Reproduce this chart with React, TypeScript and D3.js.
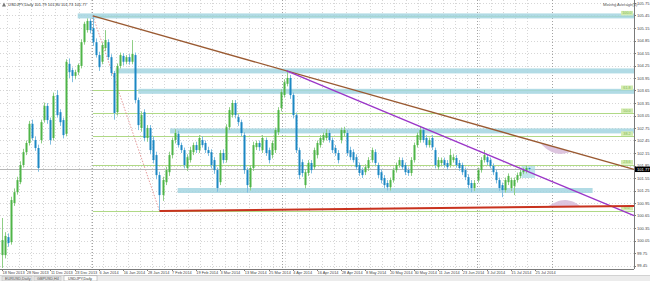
import React from 'react';
import * as d3 from 'd3';

const opens = [99.70,99.70,100.13,100.01,100.95,101.21,101.45,101.86,102.17,102.39,102.85,102.46,102.27,102.46,102.94,103.28,102.94,102.51,103.54,103.13,102.94,102.61,104.29,104.14,104.00,104.09,104.24,104.81,105.10,105.32,105.15,104.81,104.50,104.34,104.67,104.81,104.45,104.07,103.13,104.24,104.48,104.34,104.45,104.34,104.50,103.42,102.75,103.13,102.51,102.75,102.46,102.10,101.62,101.14,101.45,101.69,102.10,102.46,102.61,102.34,102.22,101.79,101.98,102.17,102.34,102.22,102.46,102.39,102.22,102.17,101.98,101.74,101.45,102.15,101.98,102.77,103.06,103.35,103.01,102.89,102.58,101.74,101.33,101.79,102.29,102.39,102.22,102.46,102.22,102.10,102.22,102.65,103.23,103.54,103.81,103.95,103.54,103.06,102.22,101.93,101.38,101.67,101.91,101.81,102.10,102.34,102.46,102.51,102.63,102.46,102.27,102.15,102.46,102.63,102.63,102.22,102.17,102.05,101.86,101.74,101.69,101.79,101.98,102.17,101.86,101.69,101.55,101.43,101.33,101.50,101.74,101.86,101.98,101.86,101.74,101.67,101.98,102.34,102.46,102.70,102.51,102.34,102.51,102.22,101.81,101.91,101.98,101.91,101.86,101.98,102.03,101.91,101.86,101.74,101.57,101.43,101.31,101.50,101.74,101.98,102.05,101.98,101.84,101.69,101.50,101.38,101.26,101.45,101.31,101.36,101.50,101.60,101.69,101.72,101.79];
const highs = [100.59,100.25,100.22,101.10,101.30,101.58,101.95,102.25,102.45,102.92,102.95,102.55,102.35,102.95,103.36,103.35,103.00,103.60,103.66,103.20,103.00,104.40,104.42,104.20,104.15,104.30,104.88,105.30,105.38,105.38,105.44,104.90,104.58,104.80,105.10,104.88,104.52,104.12,104.30,104.56,104.55,104.50,104.52,104.86,104.56,103.48,103.15,103.20,102.82,102.82,102.55,102.18,101.70,101.58,101.82,102.18,102.52,102.72,102.68,102.40,102.28,102.12,102.30,102.40,102.42,102.58,102.55,102.45,102.30,102.24,102.05,101.80,102.22,102.24,102.84,103.25,103.42,103.42,103.08,102.95,102.65,101.80,101.86,102.42,102.45,102.45,102.58,102.52,102.28,102.45,102.76,103.25,103.68,103.92,104.12,104.02,103.60,103.12,102.28,102.00,101.76,101.98,101.98,102.28,102.45,102.58,102.64,102.72,102.70,102.52,102.34,102.22,102.76,102.78,102.70,102.30,102.24,102.12,101.92,101.80,101.88,102.05,102.28,102.24,101.92,101.76,101.62,101.50,101.56,101.80,101.92,102.05,102.04,101.92,101.80,102.05,102.40,102.64,102.80,102.76,102.58,102.52,102.58,102.28,102.05,102.04,102.04,101.98,102.25,102.12,102.10,101.98,101.92,101.80,101.64,101.50,101.50,101.80,102.05,102.22,102.12,102.04,101.90,101.76,101.56,101.44,101.56,101.66,101.56,101.56,101.68,101.75,101.80,101.85,101.80];
const lows = [99.39,99.62,99.90,99.95,100.88,101.15,101.40,101.80,102.10,102.33,102.45,102.20,101.70,102.38,102.88,102.85,102.35,102.45,103.00,102.80,102.50,102.55,103.95,103.85,103.92,104.02,104.18,104.75,105.04,105.02,104.72,104.44,104.12,104.28,104.60,104.38,104.00,102.95,103.05,104.18,104.25,104.28,104.27,104.28,103.35,102.70,102.66,102.43,102.42,102.12,101.90,101.52,100.76,101.00,101.38,101.60,102.02,102.38,102.28,102.15,101.78,101.72,101.92,102.10,102.15,102.15,102.28,102.15,102.08,101.78,101.65,101.22,101.38,101.90,101.92,102.70,103.00,102.98,102.80,102.55,101.65,101.20,101.25,101.72,102.22,102.20,102.15,102.08,101.90,102.02,102.15,102.58,103.15,103.48,103.75,103.45,102.98,102.15,101.52,101.58,101.30,101.60,101.66,101.75,102.02,102.28,102.40,102.45,102.40,102.15,102.08,101.90,102.38,102.55,102.08,101.98,101.92,101.74,101.60,101.55,101.62,101.72,101.92,101.85,101.55,101.42,101.30,101.25,101.25,101.44,101.68,101.80,101.75,101.62,101.60,101.60,101.92,102.28,102.40,102.40,102.28,102.28,102.22,101.78,101.74,101.84,101.80,101.74,101.80,101.92,101.80,101.72,101.62,101.50,101.30,101.21,101.24,101.44,101.68,101.92,101.86,101.78,101.62,101.42,101.24,101.09,101.20,101.38,101.24,101.14,101.44,101.54,101.64,101.66,101.73];
const closes = [100.06,100.16,99.99,101.02,101.21,101.50,101.86,102.17,102.39,102.85,102.51,102.27,101.79,102.89,103.28,102.94,102.46,103.52,103.06,102.89,102.58,104.34,104.09,104.00,104.09,104.26,104.81,105.25,105.32,105.10,104.81,104.50,104.21,104.74,104.86,104.45,104.07,103.11,104.24,104.50,104.34,104.45,104.34,104.53,103.42,102.82,103.06,102.51,102.75,102.22,101.98,101.62,101.14,101.50,101.74,102.10,102.46,102.63,102.34,102.22,101.86,102.05,102.22,102.34,102.22,102.51,102.34,102.22,102.15,101.86,101.74,101.31,102.15,101.98,102.77,103.18,103.35,103.06,102.89,102.63,101.74,101.38,101.79,102.34,102.39,102.29,102.51,102.15,101.98,102.39,102.70,103.18,103.61,103.85,103.95,103.54,103.06,102.22,101.62,101.67,101.69,101.91,101.74,102.22,102.39,102.51,102.58,102.63,102.46,102.22,102.15,101.98,102.70,102.70,102.15,102.05,101.98,101.81,101.67,101.62,101.81,101.98,102.22,101.91,101.62,101.50,101.38,101.33,101.50,101.74,101.86,101.98,101.81,101.69,101.67,101.98,102.34,102.58,102.70,102.46,102.34,102.46,102.29,101.86,101.98,101.98,101.86,101.81,102.10,102.05,101.86,101.79,101.69,101.57,101.38,101.31,101.43,101.74,101.98,102.10,101.93,101.84,101.69,101.50,101.31,101.26,101.50,101.60,101.50,101.50,101.62,101.69,101.74,101.79,101.77];

const yTicks = [105.75,105.45,105.15,104.85,104.55,104.25,103.95,103.65,103.35,103.05,102.75,102.45,102.15,101.85,101.55,101.25,100.95,100.65,100.35,100.05,99.75,99.45];
const dateLabels = ["18 Nov 2013","28 Nov 2013","11 Dec 2013","23 Dec 2013","6 Jan 2014","16 Jan 2014","28 Jan 2014","7 Feb 2014","19 Feb 2014","3 Mar 2014","13 Mar 2014","25 Mar 2014","4 Apr 2014","16 Apr 2014","28 Apr 2014","8 May 2014","20 May 2014","30 May 2014","11 Jun 2014","23 Jun 2014","3 Jul 2014","15 Jul 2014","25 Jul 2014"];

const fiboLevels = [100.76, 101.86, 102.55, 103.10, 103.65, 105.44];
const fiboNames = ["0.0", "23.6", "38.2", "50.0", "61.8", "100.0"];
const fiboStartBar = 30;
const fiboEndBar = 52;

const bandPrices = [105.44, 104.12, 103.63, 102.68, 101.25];
const bandStartBars = [25, 37.5, 45, 55.5, 58];
const bandEndBars = [210, 210, 210, 210, 195];

const brownLine = [[30, 105.44], [94, 104.12]];
const purpleLine = [[94, 104.12], [159, 102.15]];
const redLine = [[52, 100.76], [208, 100.88]];

const separatorBars = [29.7, 92.4, 156.8, 181.6];

const blob1Bars = [177.5, 180, 183, 186, 188];
const blob1Upper = [102.40, 102.35, 102.28, 102.22, 102.18];
const blob1Lower = [102.40, 102.22, 102.12, 102.13, 102.18];
const blob2Bars = [180, 183, 186, 189, 191];
const blob2Upper = [100.86, 100.99, 101.04, 100.98, 100.87];
const blob2Lower = [100.86, 100.86, 100.86, 100.87, 100.87];

const W = 650, H = 281;
const plotRight = 634, plotBottom = 269;

export default function App() {
  const x = d3.scaleLinear().domain([0, 174]).range([2, 529]);
  const y = d3.scaleLinear().domain([99.45, 105.75]).range([265.5, 3]);
  const rightIdx = x.invert(plotRight);
  const font = "'Liberation Sans', Arial, sans-serif";

  const ext = (pts: number[][]) => {
    const [[i0, p0], [i1, p1]] = pts;
    const s = (p1 - p0) / (i1 - i0);
    return { x1: x(i0), y1: y(p0), x2: x(rightIdx), y2: y(p0 + s * (rightIdx - i0)) };
  };
  const br = ext(brownLine), pu = ext(purpleLine), rd = ext(redLine);

  const gridX = d3.range(0, 44).map(k => x(4 * k + 1.5)).filter(v => v < plotRight);
  const mkBlob = (bars: number[], up: number[], lo: number[]) =>
    d3.area<number>().x(d => x(d)).y0((d, i) => y(lo[i])).y1((d, i) => y(up[i])).curve(d3.curveBasis)(bars) || '';

  const last = closes[closes.length - 1];

  return (
    <div style={{ position: 'absolute', left: 0, top: 0 }}>
      <svg width={W} height={H} style={{ display: 'block', background: '#fff' }}>
        <rect x={0} y={0} width={W} height={H} fill="#fff" />
        {/* grid */}
        {yTicks.map((t, i) => (
          <line key={'hg' + i} x1={0} x2={plotRight} y1={Math.round(y(t)) + 0.5} y2={Math.round(y(t)) + 0.5} stroke="#c4c4c4" strokeWidth={0.7} strokeDasharray="1,2" />
        ))}
        {gridX.map((gx, i) => (
          <line key={'vg' + i} x1={Math.round(gx) + 0.5} x2={Math.round(gx) + 0.5} y1={0} y2={plotBottom} stroke="#c4c4c4" strokeWidth={0.7} strokeDasharray="1,2" />
        ))}
        {separatorBars.map((b, i) => (
          <line key={'sp' + i} x1={Math.round(x(b)) + 0.5} x2={Math.round(x(b)) + 0.5} y1={0} y2={plotBottom} stroke="#8a8a8a" strokeWidth={0.8} strokeDasharray="1,2" />
        ))}
        {/* fibo levels (under bands) */}
        {fiboLevels.map((p, i) => (
          <line key={'fb' + i} x1={x(fiboStartBar)} x2={plotRight} y1={Math.round(y(p)) + 0.5} y2={Math.round(y(p)) + 0.5} stroke="#b0d986" strokeWidth={1} />
        ))}
        {/* bands */}
        {bandPrices.map((p, i) => (
          <rect key={'bd' + i} x={x(bandStartBars[i])} width={Math.min(plotRight, x(bandEndBars[i])) - x(bandStartBars[i])} y={y(p) - 2.5} height={5} fill="#a3d5e1" opacity={0.85} />
        ))}
        {fiboLevels.map((p, i) => (
          <g key={'fl' + i}>
            <rect x={621} y={y(p) - 5} width={12} height={4.5} fill="#d2ecb0" />
            <text x={627} y={y(p) - 1.6} fontSize={3.8} fill="#86b85a" textAnchor="middle" fontFamily={font}>{fiboNames[i]}</text>
          </g>
        ))}
        <line x1={x(fiboStartBar)} y1={y(fiboLevels[5])} x2={x(fiboEndBar)} y2={y(fiboLevels[0])} stroke="#e08080" strokeWidth={0.8} strokeDasharray="1.5,1.5" />
        {/* last price line */}
        <line x1={0} x2={plotRight} y1={Math.round(y(last)) + 0.5} y2={Math.round(y(last)) + 0.5} stroke="#b8b8b8" strokeWidth={1} />
        {/* highlight box */}
        <rect x={x(171.5)} y={y(101.84)} width={x(176) - x(171.5)} height={y(101.55) - y(101.84)} fill="#a6dbe6" opacity={0.7} />
        {/* blobs */}
        <path d={mkBlob(blob1Bars, blob1Upper, blob1Lower)} fill="#d9bfdc" opacity={0.9} />
        <path d={mkBlob(blob2Bars, blob2Upper, blob2Lower)} fill="#d9bfdc" opacity={0.9} />
        {/* candles */}
        {closes.map((c, i) => {
          const o = opens[i];
          const bull = c >= o;
          const cx = Math.round(x(i));
          const top = y(Math.max(o, c));
          const bot = y(Math.min(o, c));
          return (
            <g key={'c' + i}>
              <line x1={cx + 0.5} x2={cx + 0.5} y1={y(highs[i])} y2={y(lows[i])} stroke={bull ? '#8fcf86' : '#7fbde0'} strokeWidth={1} />
              <rect x={cx - 0.5} y={top} width={2} height={Math.max(1, bot - top)} fill={bull ? '#4fb548' : '#1c88c4'} />
            </g>
          );
        })}
        {/* trend lines */}
        <line {...br} stroke="#9a5a32" strokeWidth={1.3} />
        <line {...pu} stroke="#9b36c8" strokeWidth={1.3} />
        <line {...rd} stroke="#c8321e" strokeWidth={2} />
        {/* axes */}
        <line x1={plotRight + 0.5} x2={plotRight + 0.5} y1={0} y2={plotBottom} stroke="#7a7a7a" strokeWidth={1} />
        <line x1={0} x2={plotRight} y1={plotBottom + 0.5} y2={plotBottom + 0.5} stroke="#7a7a7a" strokeWidth={1} />
        {yTicks.map((t, i) => (
          <g key={'yl' + i}>
            <line x1={plotRight} x2={plotRight + 2} y1={Math.round(y(t)) + 0.5} y2={Math.round(y(t)) + 0.5} stroke="#7a7a7a" />
            <text x={637} y={Math.max(4.6, y(t) + 1.5)} fontSize={4.1} fill="#444" fontFamily={font}>{t.toFixed(2)}</text>
          </g>
        ))}
        <rect x={plotRight + 1} y={y(last) - 2.2} width={15} height={5.4} fill="#000" />
        <text x={637} y={y(last) + 1.9} fontSize={4.1} fill="#fff" fontFamily={font}>{last.toFixed(2)}</text>
        {dateLabels.map((d, i) => (
          <g key={'dl' + i}>
            <line x1={Math.round(x(8 * i)) + 0.5} x2={Math.round(x(8 * i)) + 0.5} y1={plotBottom} y2={plotBottom + 2} stroke="#7a7a7a" />
            <text x={x(8 * i) + 0.5} y={plotBottom + 5.2} fontSize={3.9} fill="#444" fontFamily={font}>{d}</text>
          </g>
        ))}
        {/* title */}
        <path d="M2,6.5 L4,2.5 L6,6.5 Z" fill="#777" />
        <text x={8} y={6} fontSize={4.0} fill="#333" fontFamily={font}>USDJPY,Daily  101.79 101.80 101.73 101.77</text>
        <text x={603} y={6} fontSize={4.1} fill="#555" fontFamily={font}>Moving Average(5)</text>
        {/* tabs */}
        <rect x={0} y={275.5} width={W} height={5.5} fill="#ececec" />
        <line x1={0} x2={W} y1={275.5} y2={275.5} stroke="#bbb" strokeWidth={0.6} />
        <rect x={2} y={276.5} width={30} height={4.5} fill="#e2e2e2" stroke="#bdbdbd" strokeWidth={0.5} />
        <text x={5} y={280} fontSize={3.8} fill="#555" fontFamily={font}>EURUSD,Daily</text>
        <rect x={34} y={276.5} width={27} height={4.5} fill="#e2e2e2" stroke="#bdbdbd" strokeWidth={0.5} />
        <text x={37} y={280} fontSize={3.8} fill="#555" fontFamily={font}>GBPUSD,H4</text>
        <rect x={64} y={275.8} width={33} height={5.2} fill="#fff" stroke="#9a9a9a" strokeWidth={0.5} />
        <text x={68} y={280} fontSize={3.8} fill="#333" fontFamily={font}>USDJPY,Daily</text>
      </svg>
    </div>
  );
}
